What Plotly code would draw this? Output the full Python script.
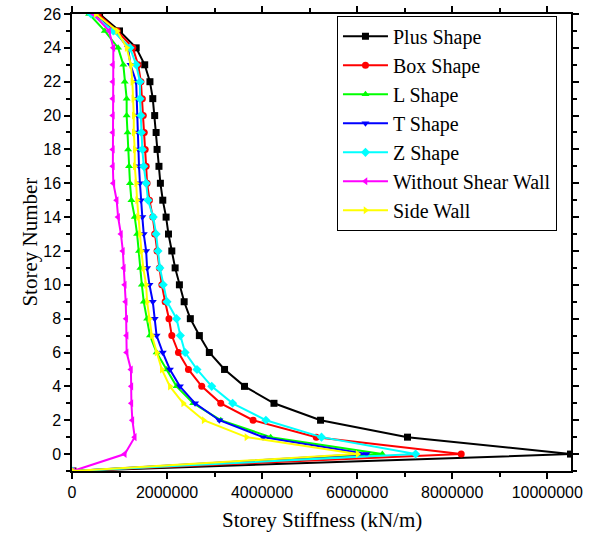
import plotly.graph_objects as go

storeys = list(range(-1, 27))

plus_shape = [20000, 10490000, 7060000, 5230000, 4250000, 3630000, 3210000, 2890000, 2680000, 2490000,
              2360000, 2260000, 2170000, 2100000, 2030000, 1980000, 1910000, 1860000, 1830000, 1790000,
              1770000, 1740000, 1700000, 1640000, 1530000, 1350000, 1000000, 580000]
box_shape = [20000, 8190000, 5140000, 3810000, 3130000, 2730000, 2450000, 2240000, 2100000, 2040000,
             1960000, 1890000, 1840000, 1790000, 1740000, 1700000, 1630000, 1580000, 1560000, 1540000,
             1520000, 1500000, 1480000, 1450000, 1390000, 1280000, 950000, 550000]
l_shape = [20000, 6530000, 4180000, 3130000, 2550000, 2200000, 1990000, 1780000, 1640000, 1580000,
           1510000, 1470000, 1440000, 1410000, 1370000, 1320000, 1250000, 1220000, 1200000, 1180000,
           1170000, 1150000, 1150000, 1110000, 1080000, 970000, 690000, 360000]
t_shape = [20000, 6200000, 4020000, 3100000, 2590000, 2270000, 2060000, 1910000, 1780000, 1740000,
           1700000, 1630000, 1580000, 1560000, 1510000, 1480000, 1450000, 1430000, 1410000, 1400000,
           1390000, 1380000, 1370000, 1350000, 1230000, 1180000, 900000, 500000]
z_shape = [20000, 7230000, 5250000, 4080000, 3380000, 2940000, 2630000, 2380000, 2280000, 2200000,
           2000000, 1920000, 1850000, 1810000, 1770000, 1710000, 1600000, 1560000, 1510000, 1480000,
           1460000, 1450000, 1430000, 1430000, 1350000, 1220000, 870000, 400000]
without_wall = [20000, 1110000, 1320000, 1270000, 1250000, 1250000, 1240000, 1150000, 1150000, 1140000,
                1130000, 1110000, 1090000, 1070000, 1030000, 970000, 940000, 870000, 860000, 860000,
                860000, 860000, 860000, 860000, 860000, 870000, 780000, 450000]
side_wall = [20000, 6010000, 3670000, 2770000, 2340000, 2060000, 1890000, 1780000, 1680000, 1630000,
             1580000, 1560000, 1500000, 1460000, 1430000, 1390000, 1370000, 1350000, 1320000, 1320000,
             1300000, 1300000, 1290000, 1270000, 1240000, 1150000, 950000, 500000]

series = [
    ("Plus Shape", plus_shape, "#000000", "square"),
    ("Box Shape", box_shape, "#FF0000", "circle"),
    ("L Shape", l_shape, "#00FF00", "triangle-up"),
    ("T Shape", t_shape, "#0000FF", "triangle-down"),
    ("Z Shape", z_shape, "#00FFFF", "diamond"),
    ("Without Shear Wall", without_wall, "#FF00FF", "triangle-left"),
    ("Side Wall", side_wall, "#FFFF00", "triangle-right"),
]

x_ticks = [0, 2000000, 4000000, 6000000, 8000000, 10000000]
y_ticks = list(range(0, 27, 2))

SERIF = "Liberation Serif, Times New Roman, serif"
SANS = "Liberation Sans, Arial, sans-serif"

fig = go.Figure()
for name, vals, color, sym in series:
    fig.add_trace(go.Scatter(
        x=vals, y=storeys, mode="lines+markers", name=name,
        line=dict(color=color, width=2),
        marker=dict(symbol=sym, size=7, color=color),
    ))

axis_common = dict(
    showline=True, linecolor="black", linewidth=1.5, mirror="ticks",
    ticks="outside", ticklen=6, tickwidth=1.5, tickcolor="black",
    showgrid=False, zeroline=False, automargin=False,
    tickfont=dict(family=SANS, size=16, color="black"),
)

fig.update_xaxes(
    range=[0, 10500000], tickvals=x_ticks, ticktext=[str(v) for v in x_ticks],
    minor=dict(dtick=1000000, ticks="outside", ticklen=4, tickwidth=1.5, tickcolor="black", tick0=0),
    **axis_common,
)
fig.update_yaxes(
    range=[-1, 26], tickvals=y_ticks,
    minor=dict(dtick=1, ticks="outside", ticklen=4, tickwidth=1.5, tickcolor="black", tick0=0),
    **axis_common,
)

fig.add_annotation(
    text="Storey Stiffness (kN/m)", xref="paper", yref="paper",
    x=0.5, y=-0.108, xanchor="center", yanchor="middle", showarrow=False,
    font=dict(family=SERIF, size=21, color="black"),
)
fig.add_annotation(
    text="Storey Number", xref="paper", yref="paper",
    x=-0.086, y=0.5, xanchor="center", yanchor="middle", showarrow=False,
    textangle=-90, font=dict(family=SERIF, size=21, color="black"),
)

fig.update_layout(
    width=597, height=546,
    margin=dict(l=72, r=26, t=14, b=75),
    paper_bgcolor="white", plot_bgcolor="white",
    legend=dict(
        x=0.531, y=0.996, xanchor="left", yanchor="top",
        bordercolor="black", borderwidth=1, bgcolor="white",
        font=dict(family=SERIF, size=20, color="black"),
        tracegroupgap=0, itemwidth=45,
    ),
)

fig.write_html("out.html")
